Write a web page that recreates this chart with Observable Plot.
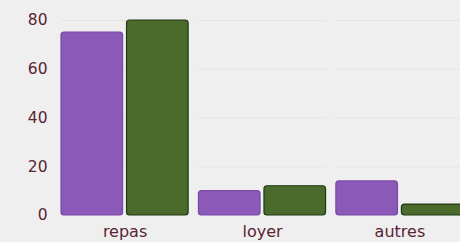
<!DOCTYPE html>
<html>
<head>
<meta charset="utf-8">
<script src="https://cdn.jsdelivr.net/npm/d3@7"></script>
<script src="https://cdn.jsdelivr.net/npm/@observablehq/plot@0.6"></script>
<style>
html, body { margin: 0; padding: 0; background: #efeff0; overflow: hidden; }
#chart { width: 460px; height: 242px; overflow: hidden; }
#chart svg { display: block; max-width: none !important; height: 242px !important; }
</style>
</head>
<body>
<div id="chart"></div>
<script>
const categories = ["repas", "loyer", "autres"];
const series = ["A", "B"];
const valuesA = [75, 10, 14];
const valuesB = [80, 12, 4.5];
const yTicks = [0, 20, 40, 60, 80];

const data = categories.flatMap((c, i) => [
  {cat: c, s: series[0], v: valuesA[i]},
  {cat: c, s: series[1], v: valuesB[i]}
]);

const textColor = "#5a2430";

const chart = Plot.plot({
  width: 466,
  height: 242,
  marginLeft: 61,
  marginRight: 3,
  marginTop: 20,
  marginBottom: 27,
  style: {background: "#efeff0", fontFamily: "DejaVu Sans, sans-serif", color: textColor},
  fx: {domain: categories, paddingInner: 0.075, paddingOuter: 0, label: null, round: false},
  x: {domain: series, paddingInner: 0.06, paddingOuter: 0, axis: null, round: false},
  y: {domain: [0, 80], label: null},
  color: {domain: series, range: ["#8b5ab8", "#4b6b2c"]},
  marks: [
    Plot.gridY(yTicks.filter(d => d > 0), {stroke: "#dcdcde", strokeOpacity: 0.6}),
    Plot.barY(data, {fx: "cat", x: "s", y: "v", fill: "s",
      stroke: d => d.s === "A" ? "#7a48a8" : "#1e3a12", strokeWidth: 1.2, rx: 3}),
    Plot.axisY({ticks: yTicks, tickSize: 0, tickPadding: 14, fontSize: 15.5, fill: textColor, anchor: "left"}),
    Plot.axisFx({anchor: "bottom", tickSize: 0, tickPadding: 10, fontSize: 16, fill: textColor, label: null})
  ]
});
document.getElementById("chart").appendChild(chart);
</script>
</body>
</html>
